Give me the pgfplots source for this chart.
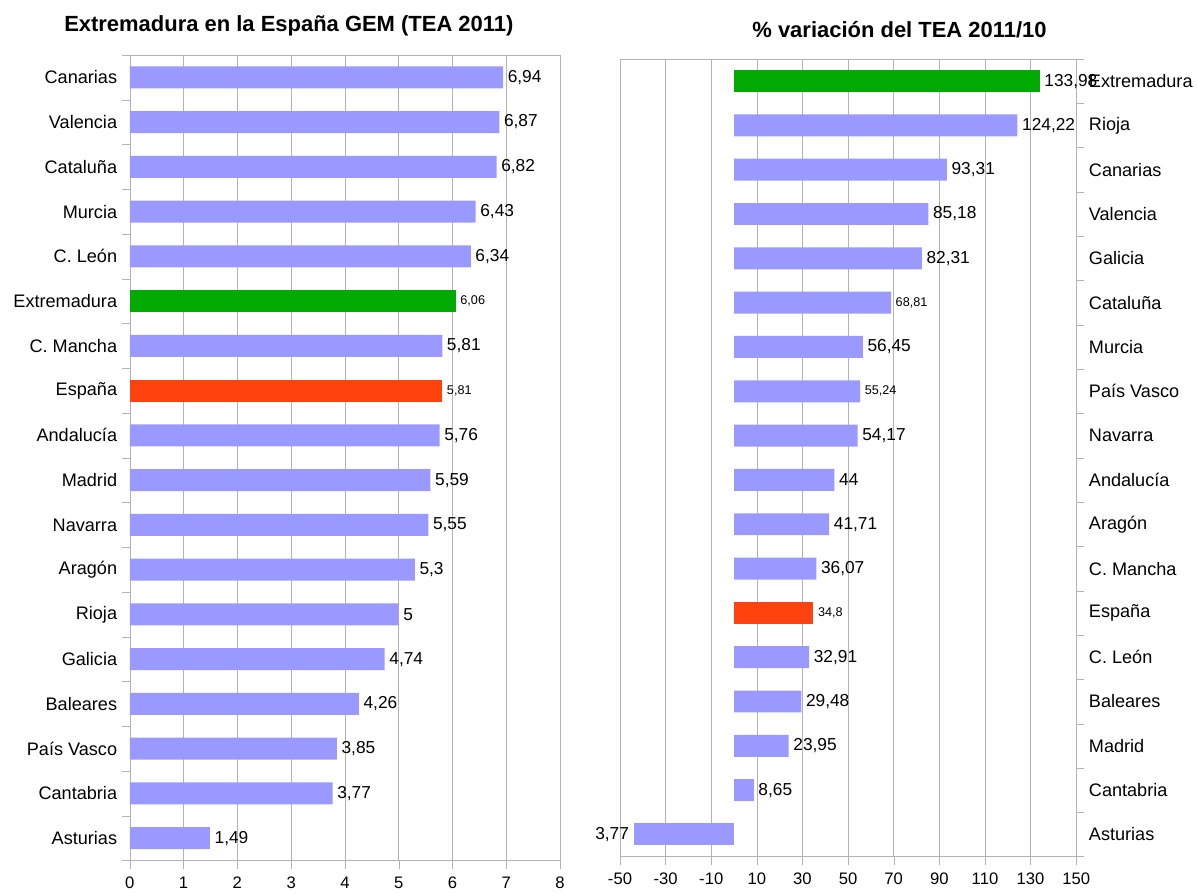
\documentclass[border=0pt]{standalone}
\usepackage{fontspec}
\setmainfont{Liberation Sans}
\usepackage{pgfplots}
\pgfplotsset{compat=1.18}
\definecolor{barblue}{HTML}{9999FF}
\definecolor{bargreen}{HTML}{00AA00}
\definecolor{barred}{HTML}{FF420E}
\definecolor{axisgray}{HTML}{B3B3B3}
\newcommand\lblfont{\fontsize{13}{15}\selectfont}
\newcommand\catfont{\fontsize{13.6}{15}\selectfont}
\newcommand\smfont{\fontsize{9.5}{10}\selectfont}
\pgfplotsset{
  mystyle/.style={
    scale only axis, y dir=reverse, ymin=-0.5, ymax=17.5,
    xbar, bar width=16.5pt, bar shift=0pt,
    axis line style={axisgray}, xmajorgrids, grid style={axisgray},
    tick align=outside, major tick length=6pt, minor tick length=6pt,
    major x tick style={axisgray}, major y tick style={draw=none},
    minor y tick style={axisgray},
    ytick={0,...,17}, minor ytick={-0.5,0.5,...,17.5},
    yticklabel style={font=\catfont},
    xticklabel style={font=\fontsize{12.5}{14}\selectfont, yshift=-3pt},
    /pgf/number format/assume math mode=true,
    xtick pos=bottom,
    nodes near coords, point meta=explicit symbolic,
    nodes near coords style={font=\lblfont, text=black, anchor=west},
  }
}
\begin{document}
\begin{tikzpicture}
\path (0pt,0pt) rectangle (897.75pt,669.75pt);
\node[font=\bfseries\fontsize{16.5}{19}\selectfont] at (217pt,650pt) {Extremadura en la España GEM (TEA 2011)};
\node[font=\bfseries\fontsize{16.5}{19}\selectfont] at (675.75pt,647.5pt) {\% variación del TEA 2011/10};

\begin{axis}[mystyle, at={(97.5pt,23.25pt)}, anchor=south west,
  width=323.25pt, height=605.25pt, xmin=0, xmax=8, xtick={0,...,8},
  ytick pos=left,
  yticklabels={Canarias,Valencia,Cataluña,Murcia,C. León,Extremadura,C. Mancha,España,Andalucía,Madrid,Navarra,Aragón,Rioja,Galicia,Baleares,País Vasco,Cantabria,Asturias}]
\addplot[fill=barblue, draw=none] coordinates {
 (6.94,0) [6,94] (6.87,1) [6,87] (6.82,2) [6,82] (6.43,3) [6,43] (6.34,4) [6,34]
 (5.81,6) [5,81] (5.76,8) [5,76] (5.59,9) [5,59] (5.55,10) [5,55] (5.3,11) [5,3]
 (5,12) [5] (4.74,13) [4,74] (4.26,14) [4,26] (3.85,15) [3,85] (3.77,16) [3,77]
 (1.49,17) [1,49]};
\addplot[fill=bargreen, draw=none, nodes near coords style={font=\smfont}] coordinates {(6.06,5) [6,06]};
\addplot[fill=barred, draw=none, nodes near coords style={font=\smfont}] coordinates {(5.81,7) [5,81]};
\end{axis}

\begin{axis}[mystyle, at={(465.75pt,26.25pt)}, anchor=south west,
  width=342.75pt, height=599.25pt, xmin=-50, xmax=150, xtick={-50,-30,...,150},
  ytick pos=right, yticklabel pos=right,
  yticklabels={Extremadura,Rioja,Canarias,Valencia,Galicia,Cataluña,Murcia,País Vasco,Navarra,Andalucía,Aragón,C. Mancha,España,C. León,Baleares,Madrid,Cantabria,Asturias}]
\addplot[fill=barblue, draw=none] coordinates {
 (124.22,1) [124,22] (93.31,2) [93,31] (85.18,3) [85,18] (82.31,4) [82,31]
 (56.45,6) [56,45] (54.17,8) [54,17] (44,9) [44] (41.71,10) [41,71]
 (36.07,11) [36,07] (32.91,13) [32,91] (29.48,14) [29,48] (23.95,15) [23,95]
 (8.65,16) [8,65]};
\addplot[fill=barblue, draw=none, nodes near coords style={anchor=east}] coordinates {
 (-44,17) [3,77]};
\addplot[fill=barblue, draw=none, nodes near coords style={font=\smfont}] coordinates {
 (68.81,5) [68,81] (55.24,7) [55,24]};
\addplot[fill=bargreen, draw=none] coordinates {(133.98,0) [133,98]};
\addplot[fill=barred, draw=none, nodes near coords style={font=\smfont}] coordinates {(34.8,12) [34,8]};
\end{axis}
\end{tikzpicture}
\end{document}
